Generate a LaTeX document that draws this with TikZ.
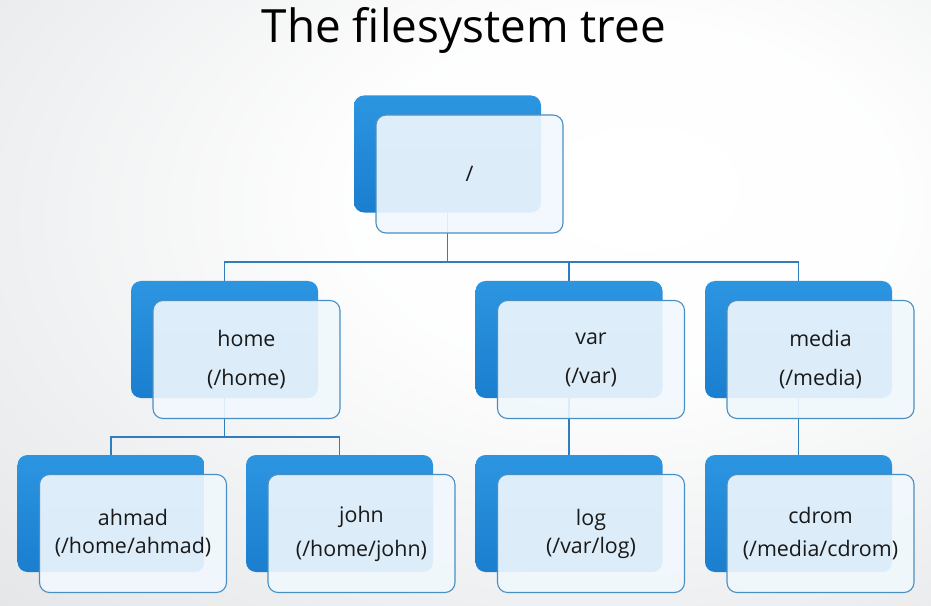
\documentclass[tikz,border=0pt]{standalone}
\usepackage{fontspec}
\setmainfont{Open Sans}
\usetikzlibrary{calc}
\definecolor{bgGray}{HTML}{CBCFD2}
\definecolor{blueTop}{HTML}{2C95E0}
\definecolor{blueBot}{HTML}{1B7ECF}
\definecolor{frontFill}{HTML}{F1F8FD}
\definecolor{frontDraw}{HTML}{4A8FC4}
\definecolor{connBlue}{HTML}{2F7DBE}
\pgfdeclareradialshading{bgshade}{\pgfpoint{10bp}{10bp}}{color(0bp)=(white); color(15bp)=(white!97!bgGray); color(72bp)=(bgGray); color(100bp)=(bgGray)}
\tikzset{
  backbox/.style={rectangle, rounded corners=10bp, minimum width=187bp, minimum height=117bp, inner sep=0pt, top color=blueTop, bottom color=blueBot, draw=none},
  frontbox/.style={rectangle, rounded corners=10bp, minimum width=187bp, minimum height=118bp, inner sep=0pt, fill=frontFill, fill opacity=0.9, text opacity=1, draw=frontDraw, line width=1.1bp, align=center, font=\fontsize{21.5}{26}\selectfont, text=black!90},
  conn/.style={draw=connBlue, line width=1.6bp},
}
\begin{document}
\begin{tikzpicture}[x=1bp,y=-1bp]
\useasboundingbox (0,0) rectangle (931,606);
\shade[shading=bgshade] (0,0) rectangle (931,606);
\node[anchor=base, font=\fontsize{46}{50}\selectfont, text=black] (title) at (464,43) {The filesystem tree};
% back boxes
\node[backbox] (root) at (447.5,154) {};
\node[backbox] (home) at (224.5,339.5) {};
\node[backbox] (var) at (569,339.5) {};
\node[backbox] (media) at (798.5,339.5) {};
\node[backbox] (ahmad) at (111,513.5) {};
\node[backbox] (john) at (339.5,513.5) {};
\node[backbox] (log) at (569,513.5) {};
\node[backbox] (cdrom) at (798.5,513.5) {};
% connectors
\coordinate (j1) at (447.5,262);
\coordinate (j2) at (224.5,437);
\draw[conn] (root.south) -- (j1);
\draw[conn] (home.north) |- (j1) -| (media.north);
\draw[conn] (var.north) |- (j1);
\draw[conn] (home.south) -- (j2);
\draw[conn] (ahmad.north) |- (j2) -| (john.north);
\draw[conn] (var.south) -- (log.north);
\draw[conn] (media.south) -- (cdrom.north);
% front boxes
\node[frontbox] (rootf) at (469.5,174) {/};
\node[frontbox] (homef) at (246.5,359.5) {home\\[13pt](/home)};
\node[frontbox] (varf) at (591,359.5) {var\\[13pt](/var)};
\node[frontbox] (mediaf) at (820.5,359.5) {media\\[13pt](/media)};
\node[frontbox] (ahmadf) at (133,533.5) {ahmad\\[2pt](/home/ahmad)};
\node[frontbox] (johnf) at (361.5,533.5) {john\\[8pt](/home/john)};
\node[frontbox] (logf) at (591,533.5) {log\\[2pt](/var/log)};
\node[frontbox] (cdromf) at (820.5,533.5) {cdrom\\[8pt](/media/cdrom)};
\end{tikzpicture}
\end{document}
